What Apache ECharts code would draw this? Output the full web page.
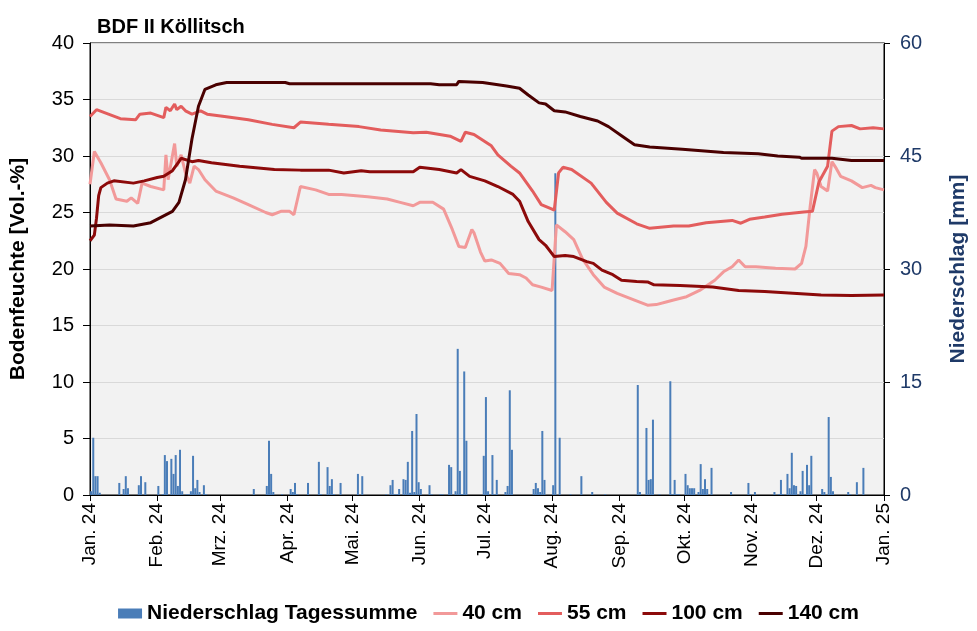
<!DOCTYPE html>
<html>
<head>
<meta charset="utf-8">
<script src="https://cdn.jsdelivr.net/npm/echarts@6/dist/echarts.min.js"></script>
<style>html,body{margin:0;padding:0;background:#fff}#c{width:977px;height:631px}</style>
</head>
<body>
<div id="c"></div>
<script>
// ---- data (day index from 1 Jan 2024) ----
const tickDays = [0,31,60,91,121,152,182,213,244,274,305,335,366];
const tickLabels = ['Jan. 24','Feb. 24','Mrz. 24','Apr. 24','Mai. 24','Jun. 24','Jul. 24','Aug. 24','Sep. 24','Okt. 24','Nov. 24','Dez. 24','Jan. 25'];

const days40 = [0,2,5,9,12,17,19,22,24,28,34,35,36,39,40,42,44,46,48,50,53,58,66,73,81,84,88,92,94,97,104,110,116,128,137,143,149,152,158,163,167,170,173,176,177,180,182,185,189,193,198,201,204,208,213,215,219,223,227,232,237,243,251,257,261,266,269,275,281,288,292,296,299,302,307,316,325,328,330,332,334,335,337,340,342,344,346,351,356,360,362,366];
const vals40 = [27.5,30.4,29.4,27.9,26.2,26.0,26.3,25.8,27.6,27.3,27.0,30.1,27.9,31.1,29.1,30.1,28.5,27.6,29.1,28.8,27.9,26.9,26.3,25.7,25.0,24.8,25.1,25.1,24.8,27.3,27.0,26.6,26.6,26.4,26.2,25.9,25.6,25.9,25.9,25.3,23.5,22.0,21.9,23.5,23.2,21.5,20.7,20.8,20.5,19.6,19.5,19.2,18.6,18.4,18.1,23.9,23.3,22.6,20.9,19.5,18.4,17.85,17.25,16.8,16.85,17.1,17.25,17.55,18.1,19.0,19.75,20.2,20.8,20.2,20.2,20.06,20.0,20.5,22.0,25.6,28.8,28.5,27.3,26.9,29.5,28.9,28.2,27.8,27.2,27.4,27.2,27.0];

const days55 = [0,3,14,21,23,28,34,35,37,39,40,42,44,47,51,54,62,73,84,94,97,110,124,134,149,155,166,171,173,177,185,188,194,198,204,208,213,214,216,218,222,231,238,243,252,258,269,276,284,296,300,304,311,319,329,333,336,340,342,345,351,355,361,366];
const vals55 = [33.5,34.1,33.3,33.2,33.7,33.8,33.4,34.3,34.0,34.6,34.1,34.4,34.0,33.7,34.0,33.7,33.5,33.2,32.8,32.5,33.0,32.8,32.6,32.3,32.05,32.1,31.75,31.3,32.1,31.9,30.9,30.1,29.1,28.5,26.9,25.7,25.3,25.2,28.5,29.0,28.8,27.6,25.9,24.95,24.0,23.6,23.8,23.8,24.1,24.3,24.05,24.4,24.6,24.85,25.05,25.1,27.7,29.1,32.2,32.6,32.7,32.4,32.5,32.4];

const days100 = [0,2,3,4,5,8,11,20,25,31,34,38,41,42,47,50,56,69,85,97,110,117,125,129,149,152,161,169,171,175,182,188,195,198,202,207,210,214,219,223,229,232,236,241,245,252,257,260,272,287,299,311,324,337,351,366];
const vals100 = [22.5,23.0,24.5,26.5,27.2,27.6,27.8,27.6,27.8,28.1,28.2,28.7,29.5,29.8,29.5,29.6,29.4,29.1,28.8,28.75,28.75,28.5,28.7,28.6,28.6,29.0,28.8,28.5,28.8,28.2,27.8,27.3,26.6,26.0,24.2,22.6,22.1,21.1,21.2,21.1,20.65,20.5,19.9,19.5,19.0,18.9,18.85,18.6,18.55,18.4,18.1,18.0,17.85,17.7,17.65,17.7];

const days140 = [0,9,20,28,32,38,41,44,47,50,53,58,63,90,92,157,161,169,170,181,192,198,202,207,210,214,219,226,234,239,245,251,258,273,292,308,317,327,328,342,351,366];
const vals140 = [23.8,23.9,23.8,24.1,24.5,25.1,25.9,27.9,31.5,34.4,35.9,36.3,36.5,36.5,36.4,36.4,36.3,36.3,36.6,36.5,36.2,36.0,35.4,34.7,34.6,34.0,33.9,33.5,33.1,32.6,31.8,31.0,30.8,30.6,30.3,30.2,30.0,29.9,29.8,29.8,29.6,29.6];

const rainDays = [0,1,2,3,4,13,15,16,17,22,23,25,31,33,34,35,37,38,39,40,41,42,44,45,46,47,48,49,50,52,53,75,81,82,83,84,88,92,93,94,95,100,105,106,109,110,111,112,115,123,125,136,138,139,140,141,142,144,145,146,147,148,149,150,151,152,156,157,161,162,165,166,168,169,170,171,172,173,181,182,183,185,186,187,191,192,193,194,204,205,206,207,208,209,213,214,216,221,226,231,237,252,253,256,257,258,259,262,267,268,269,270,271,274,275,276,277,278,280,281,282,283,284,286,295,303,304,306,315,317,318,319,321,322,323,324,325,327,328,329,330,331,332,337,338,340,341,342,349,350,353,356];
const rainMm = [0.5,7.6,2.5,2.5,0.3,1.6,0.8,2.5,0.9,1.3,2.5,1.7,1.2,0.1,5.3,4.5,4.8,2.8,5.3,1.2,6.0,0.5,0.1,0.1,0.5,5.2,0.9,2.0,0.4,1.3,0.1,0.8,1.2,7.2,2.8,0.4,0.1,0.8,0.4,1.6,0.1,1.6,4.4,0.1,3.7,1.2,2.1,0.1,1.6,2.8,2.5,0.1,1.3,2.0,0.1,0.1,0.8,2.1,2.0,4.4,0.3,8.5,0.4,10.75,1.7,0.8,1.3,0.1,0.1,0.1,4.0,3.7,0.5,19.4,3.2,0.1,16.4,7.2,5.2,13.0,0.5,5.3,0.1,2.0,0.4,1.2,13.9,6.0,0.8,1.6,0.9,0.4,8.5,2.0,1.3,42.7,7.6,0.1,2.5,0.4,0.1,14.6,0.4,8.9,2.0,2.1,10.0,0.1,15.1,0.1,2.0,0.1,0.1,2.8,1.3,0.9,0.9,0.9,0.4,4.1,0.8,2.1,0.8,3.6,0.4,1.6,0.1,0.4,0.4,0.1,2.0,0.1,2.8,0.9,5.6,1.3,1.2,0.5,3.2,0.1,4.0,1.3,5.2,0.8,0.4,10.35,2.4,0.5,0.4,0.1,1.7,3.6];

// ---- chart ----
const FONT = 'Liberation Sans, Arial, sans-serif';
const labelMap = {};
tickDays.forEach((d, i) => { labelMap[d] = tickLabels[i]; });
const pairs = (xs, ys) => xs.map((x, i) => [x, ys[i]]);
const LINE_ICON = 'path://M0,0L24,0L24,3L0,3Z';

const chart = echarts.init(document.getElementById('c'), null, {renderer: 'canvas'});
const lineSeries = (name, xs, ys, color) => ({
  name, type: 'line', data: pairs(xs, ys), yAxisIndex: 0,
  symbol: 'none', showSymbol: false, smooth: false,
  lineStyle: {color, width: 3}, itemStyle: {color}, z: 3
});

chart.setOption({
  animation: false,
  backgroundColor: '#ffffff',
  textStyle: {fontFamily: FONT},
  title: {
    text: 'BDF II Köllitsch', left: 97, top: 17, padding: 0,
    textStyle: {fontFamily: FONT, fontSize: 20, fontWeight: 'bold', color: '#000'}
  },
  grid: {
    left: 86, right: 86, top: 43, bottom: 136,
    show: true, backgroundColor: '#F2F2F2', borderColor: '#000', borderWidth: 1
  },
  legend: {
    bottom: 2, left: 'center', itemWidth: 24, itemHeight: 10, itemGap: 16,
    symbolKeepAspect: true,
    textStyle: {fontFamily: FONT, fontSize: 21, fontWeight: 'bold', color: '#000'},
    data: [
      {name: 'Niederschlag Tagessumme', icon: 'rect'},
      {name: '40 cm', icon: LINE_ICON},
      {name: '55 cm', icon: LINE_ICON},
      {name: '100 cm', icon: LINE_ICON},
      {name: '140 cm', icon: LINE_ICON}
    ]
  },
  xAxis: {
    type: 'value', min: 0, max: 366,
    axisLine: {show: true, lineStyle: {color: '#000', width: 1}},
    axisTick: {show: true, customValues: tickDays, length: 6, lineStyle: {color: '#000'}},
    axisLabel: {
      customValues: tickDays, rotate: 90, margin: 8,
      formatter: v => labelMap[v] || '',
      fontFamily: FONT, fontSize: 19, color: '#000'
    },
    splitLine: {show: false}
  },
  yAxis: [{
    type: 'value', min: 0, max: 40, interval: 5, position: 'left',
    name: 'Bodenfeuchte [Vol.-%]', nameLocation: 'middle', nameGap: 61, nameRotate: 90,
    nameTextStyle: {fontFamily: FONT, fontSize: 21, fontWeight: 'bold', color: '#000'},
    axisLine: {show: true, lineStyle: {color: '#000'}},
    axisTick: {show: true, length: 7, lineStyle: {color: '#000'}},
    axisLabel: {fontFamily: FONT, fontSize: 20, color: '#000', margin: 16},
    splitLine: {show: true, lineStyle: {color: '#D9D9D9', width: 1}}
  }, {
    type: 'value', min: 0, max: 60, interval: 15, position: 'right',
    name: 'Niederschlag [mm]', nameLocation: 'middle', nameGap: 64, nameRotate: 90,
    nameTextStyle: {fontFamily: FONT, fontSize: 21, fontWeight: 'bold', color: '#1F3A68'},
    axisLine: {show: true, lineStyle: {color: '#000'}},
    axisTick: {show: true, length: 6, lineStyle: {color: '#000'}},
    axisLabel: {fontFamily: FONT, fontSize: 20, color: '#1F3A68', margin: 16},
    splitLine: {show: false}
  }],
  series: [{
    name: 'Niederschlag Tagessumme', type: 'bar', yAxisIndex: 1,
    data: pairs(rainDays.map(d => d + 0.5), rainMm),
    barWidth: 2, itemStyle: {color: '#4A7DB8'}, z: 2
  },
    lineSeries('40 cm', days40, vals40, '#F29999'),
    lineSeries('55 cm', days55, vals55, '#E35D5D'),
    lineSeries('100 cm', days100, vals100, '#8C0A0A'),
    lineSeries('140 cm', days140, vals140, '#4A0000')
  ]
});
</script>
</body>
</html>
